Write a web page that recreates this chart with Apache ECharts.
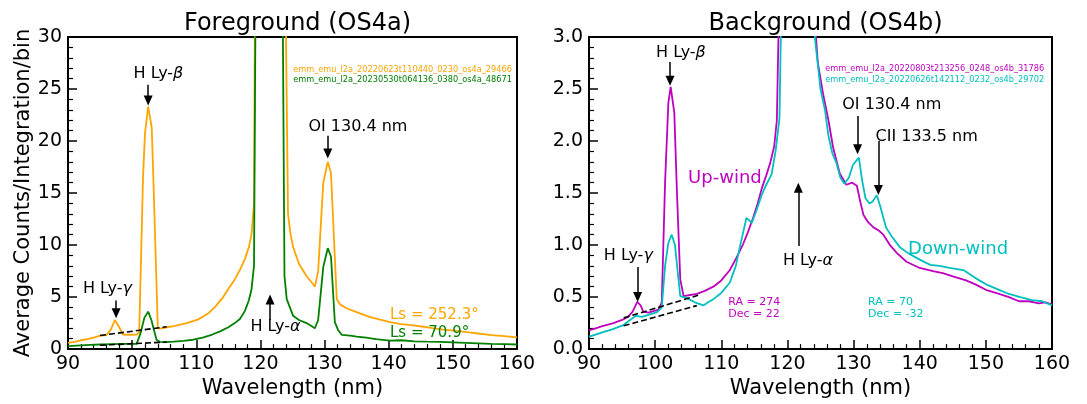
<!DOCTYPE html>
<html>
<head>
<meta charset="utf-8">
<script src="https://cdn.jsdelivr.net/npm/echarts@6/dist/echarts.min.js"></script>
<style>
  html, body { margin: 0; padding: 0; background: #fff; }
  #chart { width: 1087px; height: 404px; }
</style>
</head>
<body>
<div id="chart"></div>
<script>
// ---- Foreground (OS4a) spectra ----
const fgWaveLs252 = [90, 91, 92, 93, 94, 95, 96, 96.7, 97.3, 97.9, 98.6, 99.5, 100.7, 101.1, 101.7, 102.0, 102.5, 103.05, 103.3, 104.0, 104.6, 105.4, 106.5, 107.5, 108.5, 110.1, 111, 112, 113, 114.2, 115, 116, 116.8, 117.6, 118.2, 118.6, 119.0, 119.2, 121.5, 123.8, 124.3, 124.7, 125.1, 126.0, 127.2, 128.0, 128.5, 129.0, 129.8, 130.5, 131.0, 131.9, 132.4, 133.5, 135, 137, 138.5, 140.2, 142, 143.5, 145.4, 147, 148.5, 150.6, 152.5, 154, 156, 158, 160];
const fgCountsLs252 = [0.59, 0.7, 0.85, 0.95, 1.1, 1.3, 1.35, 1.9, 2.8, 2.2, 1.4, 1.38, 1.4, 1.6, 16.6, 20.7, 23.3, 21.3, 16.6, 2.0, 2.0, 2.1, 2.2, 2.35, 2.5, 2.8, 3.1, 3.5, 4.1, 5.0, 5.8, 6.7, 7.6, 8.7, 9.8, 11, 14, 40, 600, 40, 13, 11, 9.8, 8.2, 7.0, 6.4, 6.0, 7.5, 16.0, 18.0, 16.9, 4.8, 4.3, 3.9, 3.55, 3.1, 2.85, 2.6, 2.4, 2.3, 2.15, 2.0, 1.88, 1.75, 1.6, 1.5, 1.35, 1.25, 1.12];

const fgWaveLs71 = [90, 92, 93.5, 95, 97, 99, 100.7, 101.3, 101.9, 102.5, 103.0, 103.8, 104.3, 105, 106.5, 108, 109.5, 111, 112.5, 113.7, 115, 116, 116.8, 117.6, 118.2, 118.6, 119.0, 119.3, 121.4, 123.4, 123.75, 124.1, 125.1, 126, 127.2, 128.0, 128.5, 129.0, 129.8, 130.5, 131.0, 131.6, 132.1, 132.7, 134, 135, 136.5, 138, 140.2, 142, 144, 146, 148, 150, 152, 154, 156, 158, 160];
const fgCountsLs71 = [0.28, 0.35, 0.4, 0.44, 0.47, 0.5, 0.5, 1.5, 3.0, 3.6, 2.8, 0.9, 0.7, 0.68, 0.72, 0.8, 0.9, 1.1, 1.4, 1.7, 2.1, 2.5, 2.9, 3.7, 4.7, 5.7, 8.0, 40, 600, 40, 7, 4.8, 3.2, 2.8, 2.5, 2.2, 2.0, 2.8, 7.9, 9.7, 8.9, 2.6, 1.84, 1.37, 1.3, 1.2, 1.1, 0.95, 0.81, 0.85, 0.75, 0.72, 0.7, 0.65, 0.6, 0.55, 0.5, 0.48, 0.44];

// continuum under the Ly-gamma / Ly-beta lines
const fgBaseLs252Wave = [95, 105.4];
const fgBaseLs252Counts = [1.31, 2.15];
const fgBaseLs71Wave = [95, 105.4];
const fgBaseLs71Counts = [0.37, 0.68];

// ---- Background (OS4b) spectra ----
const bgWaveUp = [90, 91, 92, 93.7, 95, 95.9, 96.6, 97.3, 97.8, 98.2, 99, 100, 100.5, 101.0, 101.5, 102.0, 102.35, 102.9, 103.3, 103.8, 104.3, 105.3, 106.3, 107.5, 108.8, 110, 111.3, 112.3, 113.3, 114.0, 114.8, 115.5, 116.1, 116.8, 117.4, 118.0, 118.4, 118.7, 121.5, 124.1, 124.6, 125.4, 126.2, 126.9, 127.9, 128.9, 129.8, 130.5, 131.0, 131.5, 132.2, 133.0, 133.8, 134.5, 135.5, 136.6, 138, 140, 142, 143.5, 145, 147, 148.5, 150, 152, 153.5, 155, 156.5, 158, 159, 160];
const bgCountsUp = [0.18, 0.2, 0.22, 0.25, 0.28, 0.31, 0.36, 0.455, 0.42, 0.36, 0.35, 0.37, 0.38, 0.45, 1.6, 2.37, 2.52, 2.27, 1.5, 0.67, 0.51, 0.52, 0.53, 0.56, 0.6, 0.66, 0.76, 0.88, 1.01, 1.12, 1.26, 1.4, 1.54, 1.67, 1.79, 1.95, 2.2, 3.2, 40, 3.2, 2.75, 2.45, 2.2, 1.94, 1.69, 1.58, 1.60, 1.57, 1.42, 1.29, 1.22, 1.17, 1.14, 1.10, 1.00, 0.92, 0.84, 0.78, 0.75, 0.73, 0.70, 0.66, 0.62, 0.57, 0.53, 0.50, 0.46, 0.46, 0.44, 0.45, 0.43];

const bgWaveDown = [90, 91, 92, 93.5, 95.2, 96, 97.1, 98, 99, 100.3, 101, 101.5, 102.0, 102.5, 103.0, 103.4, 103.8, 104.8, 106, 107.3, 108.0, 108.8, 110, 111.3, 112.2, 112.8, 113.3, 113.8, 114.2, 114.6, 115.3, 116.1, 116.8, 117.6, 118.2, 118.8, 119.05, 121.5, 123.8, 124.4, 125.0, 125.7, 126.2, 126.8, 127.4, 128.0, 128.6, 129.3, 129.9, 130.8, 131.3, 131.8, 132.4, 132.9, 133.5, 134.0, 134.9, 135.8, 137, 138.3, 140, 141.6, 143, 144.5, 146.6, 148.5, 150.1, 152, 153.5, 155.2, 157, 158.5, 160];
const bgCountsDown = [0.12, 0.14, 0.16, 0.19, 0.23, 0.27, 0.32, 0.31, 0.33, 0.355, 0.4, 0.8, 1.02, 1.10, 1.0, 0.75, 0.51, 0.49, 0.45, 0.42, 0.45, 0.48, 0.54, 0.64, 0.8, 0.98, 1.12, 1.26, 1.24, 1.21, 1.33, 1.48, 1.58, 1.68, 1.9, 2.22, 3.2, 40, 3.2, 2.85, 2.5, 2.29, 2.05, 1.88, 1.79, 1.65, 1.59, 1.65, 1.77, 1.84, 1.62, 1.45, 1.40, 1.42, 1.48, 1.38, 1.17, 1.08, 0.98, 0.92, 0.86, 0.81, 0.80, 0.78, 0.76, 0.68, 0.62, 0.57, 0.53, 0.50, 0.47, 0.46, 0.42];

const bgBaseUpWave = [95.25, 106.5];
const bgBaseUpCounts = [0.30, 0.517];
const bgBaseDownWave = [95.25, 106.3];
const bgBaseDownCounts = [0.224, 0.418];

// axis ticks
const waveTicks = [90, 100, 110, 120, 130, 140, 150, 160];
const fgCountTicks = [0, 5, 10, 15, 20, 25, 30];
const bgCountTicks = [0.0, 0.5, 1.0, 1.5, 2.0, 2.5, 3.0];

// file names shown at the top of each panel
const fgFiles = ['emm_emu_l2a_20220623t110440_0230_os4a_29466', 'emm_emu_l2a_20230530t064136_0380_os4a_48671'];
const bgFiles = ['emm_emu_l2a_20220803t213256_0248_os4b_31786', 'emm_emu_l2a_20220626t142112_0232_os4b_29702'];

const FONT = 'DejaVu Sans';
const C_ORANGE = '#FFA500';
const C_GREEN = '#008000';
const C_MAGENTA = '#BF00BF';
const C_CYAN = '#00BFBF';

const zip = (xs, ys) => xs.map((x, i) => [x, ys[i]]);

function spectrum(grid, name, xs, ys, color) {
  return {
    type: 'line', name, xAxisIndex: grid, yAxisIndex: grid,
    data: zip(xs, ys), showSymbol: false, symbol: 'none', clip: true,
    lineStyle: { color, width: 1.8 }, z: 3, silent: true
  };
}
function baseline(grid, xs, ys) {
  return {
    type: 'line', xAxisIndex: grid, yAxisIndex: grid,
    data: zip(xs, ys), showSymbol: false, symbol: 'none',
    lineStyle: { color: '#000', width: 1.6, type: [6, 3] }, z: 4, silent: true
  };
}
const rich = { i: { fontStyle: 'italic', fontFamily: FONT, fontSize: 16, color: '#000' } };
function note(x, y, text, opts) {
  const o = Object.assign({ color: '#000', size: 16, align: 'center' }, opts || {});
  return {
    value: [x, y], text,
    label: { color: o.color, fontSize: o.size, align: o.align, verticalAlign: 'middle', fontFamily: FONT, rich }
  };
}
function arrow(x, y0, y1) {
  return [{ coord: [x, y0] }, { coord: [x, y1] }];
}
function notes(grid, items, arrows) {
  return {
    type: 'scatter', xAxisIndex: grid, yAxisIndex: grid, symbolSize: 0, silent: true, z: 6,
    data: items,
    itemStyle: { opacity: 1 },
    label: { show: true, position: [0, 0], opacity: 1, textBorderWidth: 0, formatter: p => p.data.text },
    markLine: {
      silent: true, symbol: ['none', 'triangle'], symbolSize: [9, 10], precision: 4,
      label: { show: false },
      lineStyle: { color: '#000', width: 1.5, type: 'solid', opacity: 1 },
      itemStyle: { color: '#000', opacity: 1 },
      emphasis: { disabled: true },
      data: arrows
    }
  };
}

function xAxisFor(grid) {
  return {
    gridIndex: grid, type: 'value', min: 90, max: 160, interval: 10,
    axisLine: { show: true, onZero: false, lineStyle: { color: '#000', width: 2 } },
    axisTick: { show: true, inside: true, length: 9, lineStyle: { color: '#000', width: 1.5 } },
    minorTick: { show: true, splitNumber: 5, length: 5, lineStyle: { color: '#000', width: 1.2 } },
    splitLine: { show: false },
    axisLabel: { color: '#000', fontSize: 19, fontFamily: FONT, margin: 5, showMinLabel: true, showMaxLabel: true,
      formatter: v => waveTicks.includes(v) ? String(v) : '' },
    name: 'Wavelength (nm)', nameLocation: 'middle', nameGap: 24,
    nameTextStyle: { color: '#000', fontSize: 21, fontFamily: FONT }
  };
}
function yAxisFor(grid, max, step, ticks, digits, name) {
  return {
    gridIndex: grid, type: 'value', min: 0, max, interval: step,
    axisLine: { show: true, onZero: false, lineStyle: { color: '#000', width: 2 } },
    axisTick: { show: true, inside: true, length: 9, lineStyle: { color: '#000', width: 1.5 } },
    minorTick: { show: true, splitNumber: 5, length: 5, lineStyle: { color: '#000', width: 1.2 } },
    splitLine: { show: false },
    axisLabel: { color: '#000', fontSize: 19, fontFamily: FONT, margin: 6, showMinLabel: true, showMaxLabel: true,
      formatter: v => ticks.some(t => Math.abs(t - v) < 1e-9) ? v.toFixed(digits) : '' },
    name: name || '', nameLocation: 'middle', nameGap: 32,
    nameTextStyle: { color: '#000', fontSize: 21, fontFamily: FONT }
  };
}

const chart = echarts.init(document.getElementById('chart'), null, { renderer: 'canvas' });
chart.setOption({
  animation: false,
  backgroundColor: '#fff',
  title: [
    { text: 'Foreground (OS4a)', left: 292.5, top: 7, textAlign: 'center',
      textStyle: { fontFamily: FONT, fontSize: 24, fontWeight: 'normal', color: '#000' } },
    { text: 'Background (OS4b)', left: 820.5, top: 7, textAlign: 'center',
      textStyle: { fontFamily: FONT, fontSize: 24, fontWeight: 'normal', color: '#000' } }
  ],
  grid: [
    { left: 68, top: 37, width: 449, height: 321, show: true, borderColor: '#000', borderWidth: 2, backgroundColor: 'transparent' },
    { left: 589, top: 37, width: 463, height: 321, show: true, borderColor: '#000', borderWidth: 2, backgroundColor: 'transparent' }
  ],
  xAxis: [xAxisFor(0), xAxisFor(1)],
  yAxis: [
    yAxisFor(0, 30, 5, fgCountTicks, 0, 'Average Counts/Integration/bin'),
    yAxisFor(1, 3, 0.5, bgCountTicks, 1)
  ],
  series: [
    spectrum(0, 'Ls = 252.3°', fgWaveLs252, fgCountsLs252, C_ORANGE),
    spectrum(0, 'Ls = 70.9°', fgWaveLs71, fgCountsLs71, C_GREEN),
    baseline(0, fgBaseLs252Wave, fgBaseLs252Counts),
    baseline(0, fgBaseLs71Wave, fgBaseLs71Counts),
    notes(0, [
      note(104.1, 26.45, 'H Ly-{i|β}'),
      note(96.15, 5.8, 'H Ly-{i|γ}'),
      note(122.35, 2.15, 'H Ly-{i|α}'),
      note(135.2, 21.4, 'OI 130.4 nm'),
      note(140.2, 3.27, 'Ls = 252.3°', { color: C_ORANGE, size: 15, align: 'left' }),
      note(140.2, 1.52, 'Ls = 70.9°', { color: C_GREEN, size: 15, align: 'left' }),
      note(125.1, 26.8, fgFiles[0], { color: C_ORANGE, size: 8.2, align: 'left' }),
      note(125.1, 25.85, fgFiles[1], { color: C_GREEN, size: 8.2, align: 'left' })
    ], [
      arrow(102.5, 25.4, 23.9),
      arrow(97.5, 4.67, 3.45),
      arrow(121.5, 2.8, 4.76),
      arrow(130.5, 20.5, 18.8)
    ]),
    spectrum(1, 'Up-wind', bgWaveUp, bgCountsUp, C_MAGENTA),
    spectrum(1, 'Down-wind', bgWaveDown, bgCountsDown, C_CYAN),
    baseline(1, bgBaseUpWave, bgBaseUpCounts),
    baseline(1, bgBaseDownWave, bgBaseDownCounts),
    notes(1, [
      note(103.9, 2.85, 'H Ly-{i|β}'),
      note(95.95, 0.9, 'H Ly-{i|γ}'),
      note(123.1, 0.85, 'H Ly-{i|α}'),
      note(135.77, 2.35, 'OI 130.4 nm'),
      note(141.05, 2.04, 'CII 133.5 nm'),
      note(110.55, 1.64, 'Up-wind', { color: C_MAGENTA, size: 18 }),
      note(145.8, 0.96, 'Down-wind', { color: C_CYAN, size: 18 }),
      note(111.06, 0.45, 'RA = 274', { color: C_MAGENTA, size: 11, align: 'left' }),
      note(111.06, 0.335, 'Dec = 22', { color: C_MAGENTA, size: 11, align: 'left' }),
      note(132.2, 0.45, 'RA = 70', { color: C_CYAN, size: 11, align: 'left' }),
      note(132.2, 0.335, 'Dec = -32', { color: C_CYAN, size: 11, align: 'left' }),
      note(125.7, 2.69, bgFiles[0], { color: C_MAGENTA, size: 8.2, align: 'left' }),
      note(125.7, 2.585, bgFiles[1], { color: C_CYAN, size: 8.2, align: 'left' })
    ], [
      arrow(102.25, 2.76, 2.58),
      arrow(97.35, 0.79, 0.50),
      arrow(121.65, 0.99, 1.55),
      arrow(130.6, 2.24, 1.92),
      arrow(133.75, 2.0, 1.53)
    ])
  ]
});
</script>
</body>
</html>
